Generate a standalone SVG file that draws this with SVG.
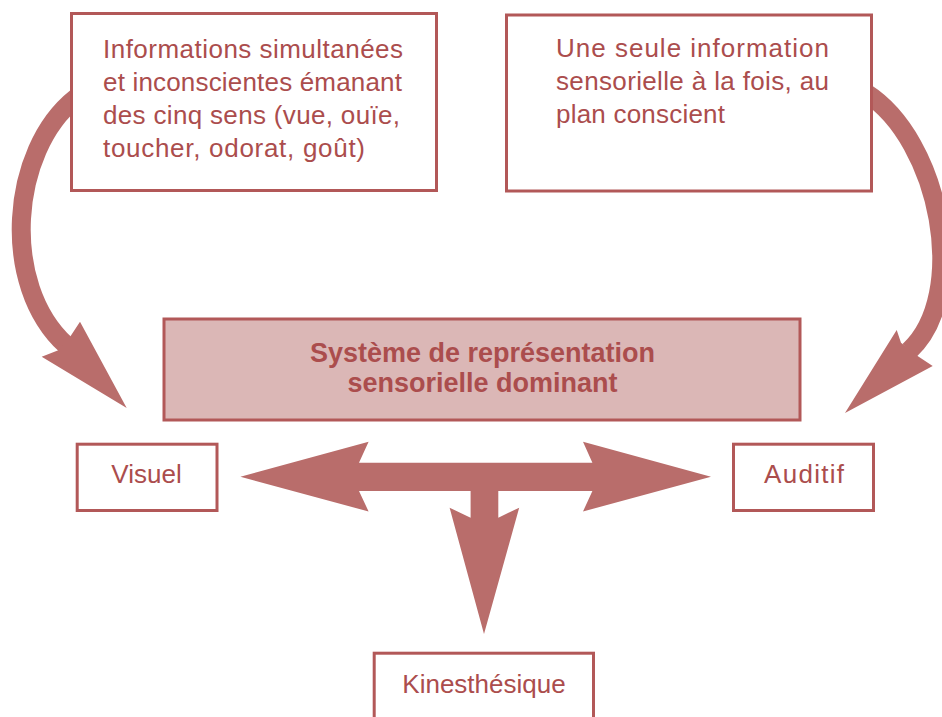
<svg xmlns="http://www.w3.org/2000/svg" width="942" height="717" viewBox="0 0 942 717">
  <style>
    .box { fill: #ffffff; stroke: #b25858; stroke-width: 3; }
    .main { fill: #dbb7b6; stroke: #b25858; stroke-width: 3; }
    .txt { font-family: "Liberation Sans", Arial, sans-serif; font-size: 26px; fill: #ab4d4d; }
    .bold { font-family: "Liberation Sans", Arial, sans-serif; font-size: 27px; font-weight: bold; fill: #ab4d4d; text-anchor: middle; }
    .mid { text-anchor: middle; }
    .band { fill: none; stroke: #b96d6b; stroke-width: 19; stroke-linecap: butt; }
    .head { fill: #b96d6b; }
  </style>
  <rect width="942" height="717" fill="#ffffff"/>
  <g id="connectors">
    <path class="band" d="M 76,98 C 10,150 0,285 66,345"/>
    <polygon class="head" points="70.3,336.5 80,321.7 126.7,408 41.7,356.7 58.3,350.3"/>
    <path class="band" d="M 866,93 C 940,140 970,295 909,351"/>
    <polygon class="head" points="901,342.8 896.7,330 845,413 932.7,366 917.2,355.7"/>
    <polygon class="head" points="240.4,476.7 368.6,441.7 359,462.7 592.4,462.7 583,441.7 711,476.7 583,511.5 592.4,491 498.3,491 498.3,517.7 519.2,507.7 484,634 449.6,507.7 470.6,517.7 470.6,491 359,491 368.6,511.5"/>
  </g>
  <g id="node-inconscient">
    <rect class="box" x="71.5" y="13.5" width="365" height="177"/>
    <text class="txt" x="103" y="58" textLength="300" lengthAdjust="spacing">Informations simultanées</text>
    <text class="txt" x="103" y="91" textLength="299" lengthAdjust="spacing">et inconscientes émanant</text>
    <text class="txt" x="103" y="124" textLength="297" lengthAdjust="spacing">des cinq sens (vue, ouïe,</text>
    <text class="txt" x="103" y="157" textLength="262" lengthAdjust="spacing">toucher, odorat, goût)</text>
  </g>
  <g id="node-conscient">
    <rect class="box" x="506.5" y="15" width="365" height="176"/>
    <text class="txt" x="556" y="57" textLength="273" lengthAdjust="spacing">Une seule information</text>
    <text class="txt" x="556" y="90" textLength="273" lengthAdjust="spacing">sensorielle à la fois, au</text>
    <text class="txt" x="556" y="123" textLength="169" lengthAdjust="spacing">plan conscient</text>
  </g>
  <g id="node-systeme">
    <rect class="main" x="164" y="319" width="636" height="101"/>
    <text class="bold" x="482.5" y="362">Système de représentation</text>
    <text class="bold" x="482.5" y="392">sensorielle dominant</text>
  </g>
  <g id="node-visuel">
    <rect class="box" x="77.2" y="444.2" width="139.8" height="66.3"/>
    <text class="txt mid" x="146.5" y="483">Visuel</text>
  </g>
  <g id="node-auditif">
    <rect class="box" x="733.5" y="444.2" width="140" height="66.3"/>
    <text class="txt mid" x="804" y="483" textLength="80" lengthAdjust="spacing">Auditif</text>
  </g>
  <g id="node-kinesthesique">
    <rect class="box" x="374.2" y="653.2" width="219.3" height="80"/>
    <text class="txt mid" x="484" y="693">Kinesthésique</text>
  </g>
</svg>
